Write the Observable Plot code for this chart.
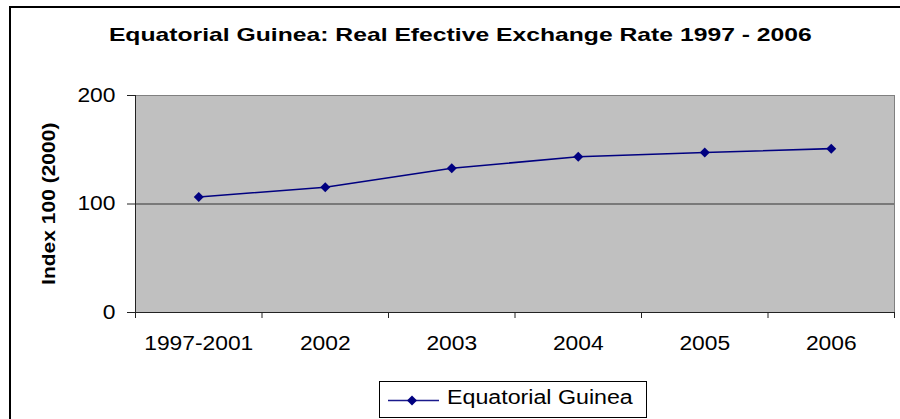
<!DOCTYPE html>
<html>
<head>
<meta charset="utf-8">
<script src="https://cdn.jsdelivr.net/npm/d3@7"></script>
<script src="https://cdn.jsdelivr.net/npm/@observablehq/plot@0.6"></script>
<style>
  html, body { margin: 0; padding: 0; background: #fff; }
  #wrap { position: relative; width: 900px; height: 419px; overflow: hidden; background: #fff;
          font-family: "Liberation Sans", Arial, sans-serif; color: #000; }
  #frame { position: absolute; left: 9px; top: 6px; width: 1000px; height: 1000px;
           border-left: 2px solid #000; border-top: 2px solid #000; }
  #title { position: absolute; left: 0; width: 920px; top: 24.5px; text-align: center;
           font-size: 19px; line-height: 19px; font-weight: bold; white-space: nowrap; }
  #title span { display: inline-block; transform: scaleX(1.3); transform-origin: 50% 50%; }
  #ylabel { position: absolute; left: -50px; width: 200px; top: 195px; text-align: center;
            font-size: 17.5px; line-height: 17.5px; font-weight: bold;
            transform: rotate(-90deg) scaleX(1.2); transform-origin: 50% 50%; white-space: nowrap; }
  #chart { position: absolute; left: 0; top: 0; }
  #legend { position: absolute; left: 379px; top: 381px; width: 266px; height: 35px;
            border: 1px solid #000; background: #fff; }
  #legend svg { position: absolute; left: 8px; top: 0; }
  #legend .lt { position: absolute; left: 67px; top: 5px; font-size: 19.5px; line-height: 20px;
                white-space: nowrap; transform: scaleX(1.19); transform-origin: 0 50%; }
</style>
</head>
<body>
<div id="wrap">
  <div id="frame"></div>
  <div id="chart"></div>
  <div id="title"><span></span></div>
  <div id="ylabel"></div>
  <div id="legend"></div>
</div>
<script>
const titleText = "Equatorial Guinea: Real Efective Exchange Rate 1997 - 2006";
const yLabelText = "Index 100 (2000)";
const seriesName = "Equatorial Guinea";
const categories = ["1997-2001", "2002", "2003", "2004", "2005", "2006"];
const values = [106.5, 115.5, 133, 143.5, 147.5, 151];
const yTicks = [0, 100, 200];
const lineColor = "#000080";

const data = categories.map((c, i) => ({cat: c, pos: i + 0.5, value: values[i]}));
const boundaries = d3.range(categories.length + 1);
const centers = categories.map((c, i) => i + 0.5);

const chart = Plot.plot({
  width: 900,
  height: 419,
  marginLeft: 135,
  marginRight: 6,
  marginTop: 95,
  marginBottom: 107,
  x: {domain: [0, categories.length]},
  y: {domain: [0, 200]},
  style: {
    fontFamily: "'Liberation Sans', Arial, sans-serif",
    fontSize: "19.5px",
    background: "transparent",
    color: "#000",
    overflow: "visible"
  },
  marks: [
    Plot.frame({fill: "#C0C0C0", stroke: "#808080"}),
    Plot.ruleY([100], {stroke: "#333"}),
    Plot.ruleX([0], {stroke: "#222"}),
    Plot.ruleY([0], {stroke: "#222"}),
    Plot.axisY({ticks: yTicks, tickSize: 8, tickPadding: 12, tickFormat: d => String(d), label: null, stroke: "#222"}),
    Plot.axisX({ticks: boundaries, tickSize: 6, tickFormat: () => "", label: null, stroke: "#222"}),
    Plot.axisX({ticks: centers, tickSize: 0, tickPadding: 24, tickFormat: v => categories[Math.floor(v)], label: null}),
    Plot.line(data, {x: "pos", y: "value", stroke: lineColor, strokeWidth: 1.6}),
    Plot.dot(data, {x: "pos", y: "value", symbol: "diamond2", r: 4.5, fill: lineColor, stroke: "none"})
  ]
});
document.getElementById("chart").appendChild(chart);
// widen the tick label glyphs like the reference rendering
chart.querySelectorAll("text").forEach(t => {
  if (!t.textContent) return;
  const w = t.getComputedTextLength();
  if (w > 0) {
    t.setAttribute("textLength", (w * 1.17).toFixed(2));
    t.setAttribute("lengthAdjust", "spacingAndGlyphs");
  }
});
document.querySelector("#title span").textContent = titleText;
document.getElementById("ylabel").textContent = yLabelText;

const legend = document.getElementById("legend");
const ns = "http://www.w3.org/2000/svg";
const sw = document.createElementNS(ns, "svg");
sw.setAttribute("width", "54");
sw.setAttribute("height", "36");
const ln = document.createElementNS(ns, "line");
ln.setAttribute("x1", "0"); ln.setAttribute("x2", "51");
ln.setAttribute("y1", "18.5"); ln.setAttribute("y2", "18.5");
ln.setAttribute("stroke", "#1a1a8c"); ln.setAttribute("stroke-width", "1.6");
sw.appendChild(ln);
const dm = document.createElementNS(ns, "path");
dm.setAttribute("d", d3.symbol(d3.symbolDiamond2, Math.PI * 4.5 * 4.5)());
dm.setAttribute("transform", "translate(24,18.5)");
dm.setAttribute("fill", lineColor);
sw.appendChild(dm);
legend.appendChild(sw);
const lt = document.createElement("div");
lt.className = "lt";
lt.textContent = seriesName;
legend.appendChild(lt);
</script>
</body>
</html>
